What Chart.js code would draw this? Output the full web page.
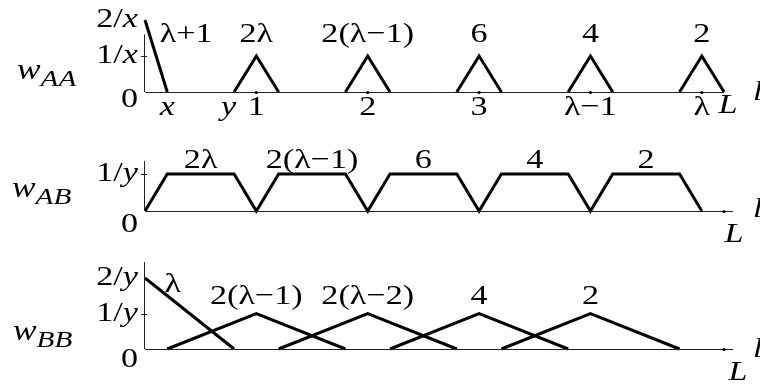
<!DOCTYPE html>
<html>
<head>
<meta charset="utf-8">
<script src="https://cdn.jsdelivr.net/npm/chart.js@4.4.1/dist/chart.umd.min.js"></script>
<style>
  html, body { margin: 0; padding: 0; background: #fff; }
  body { width: 760px; height: 386px; position: relative; overflow: hidden; }
  canvas { position: absolute; left: 0; }
</style>
</head>
<body>
<canvas id="cAA" width="760" height="130" style="top:0"></canvas>
<canvas id="cAB" width="760" height="120" style="top:130px"></canvas>
<canvas id="cBB" width="760" height="136" style="top:250px"></canvas>
<script>
// ---- data -------------------------------------------------------------
// Positions along l are in units where the k-th peak sits at l = k; L = 5.2.
const L_END = 5.2;

// w_AA: a steep decay from 2/x, then narrow triangles of height 1/x
const aaSegX = [[0, 0.2], [0.8, 1, 1.2], [1.8, 2, 2.2], [2.8, 3, 3.2], [3.8, 4, 4.2], [4.8, 5, 5.2]];
const aaSegY = [[2, 0], [0, 1, 0], [0, 1, 0], [0, 1, 0], [0, 1, 0], [0, 1, 0]];
const aaPeakLabels = ['λ+1', '2λ', '2(λ−1)', '6', '4', '2'];
const aaPeakAt = [0.37, 1, 2, 3, 4, 5];
const aaTickAt = [0.2, 0.75, 1, 2, 3, 4, 5];
const aaTickText = ['x', 'y', '1', '2', '3', 'λ−1', 'λ'];
const aaTickItalic = [true, true, false, false, false, false, false];
const aaDots = [1, 2, 3, 4, 5];

// w_AB: trapezoids of height 1/y
const abX = [0, 0.2, 0.8, 1, 1.2, 1.8, 2, 2.2, 2.8, 3, 3.2, 3.8, 4, 4.2, 4.8, 5];
const abY = [0, 1, 1, 0, 1, 1, 0, 1, 1, 0, 1, 1, 0, 1, 1, 0];
const abLabels = ['2λ', '2(λ−1)', '6', '4', '2'];
const abLabelAt = [0.5, 1.5, 2.5, 3.5, 4.5];

// w_BB: a decay from 2/y, then wide overlapping triangles of height 1/y
const bbSegX = [[0, 0.8], [0.2, 1, 1.8], [1.2, 2, 2.8], [2.2, 3, 3.8], [3.2, 4, 4.8]];
const bbSegY = [[2, 0], [0, 1, 0], [0, 1, 0], [0, 1, 0], [0, 1, 0]];
const bbLabels = ['λ', '2(λ−1)', '2(λ−2)', '4', '2'];
const bbLabelAt = [0.25, 1, 2, 3, 4];

// ---- text helpers -----------------------------------------------------
const FONT = '"Liberation Serif", "Times New Roman", serif';
const SX = 1.22;     // glyphs are drawn a little wider than the font's own
const FS = 28;

function fontOf(p) { return (p.i ? 'italic ' : '') + (p.s || FS) + 'px ' + FONT; }

// parts: [{t, i(talic), s(ize), dy}], drawn left-to-right on one baseline
function rich(ctx, parts, x, y, align) {
  const w = parts.map(p => { ctx.font = fontOf(p); return ctx.measureText(p.t).width * SX; });
  const total = w.reduce((a, b) => a + b, 0);
  let cx = align === 'center' ? x - total / 2 : align === 'right' ? x - total : x;
  parts.forEach((p, k) => {
    ctx.save();
    ctx.font = fontOf(p);
    ctx.fillStyle = '#000';
    ctx.textAlign = 'left';
    ctx.textBaseline = 'alphabetic';
    ctx.translate(cx, y + (p.dy || 0));
    ctx.scale(SX, 1);
    ctx.fillText(p.t, 0, 0);
    ctx.restore();
    cx += w[k];
  });
}

// ---- shared plugin: axes, ticks and annotations -------------------------
const framePlugin = {
  id: 'frame',
  afterDatasetsDraw(chart, args, o) {
    const ctx = chart.ctx;
    const xs = chart.scales.x, ys = chart.scales.y;
    const x0 = xs.getPixelForValue(0), y0 = ys.getPixelForValue(0);
    ctx.save();
    // axes
    ctx.strokeStyle = '#222';
    ctx.lineWidth = 1;
    ctx.beginPath();
    ctx.moveTo(x0, y0 + 0.5);
    ctx.lineTo(xs.getPixelForValue(o.xAxisEnd), y0 + 0.5);
    ctx.moveTo(x0 - 0.5, y0);
    ctx.lineTo(x0 - 0.5, ys.getPixelForValue(o.yAxisTop));
    ctx.stroke();
    // y tick marks
    o.yTicks.forEach(v => {
      const py = Math.round(ys.getPixelForValue(v)) + 0.5;
      ctx.beginPath();
      ctx.moveTo(x0 - 4, py);
      ctx.lineTo(x0 + 2, py);
      ctx.stroke();
    });
    // dots on the l axis
    ctx.fillStyle = '#000';
    o.dots.forEach(v => {
      ctx.beginPath();
      ctx.arc(xs.getPixelForValue(v), y0 + 0.5, 1.6, 0, Math.PI * 2);
      ctx.fill();
    });
    // y labels
    o.yLabels.forEach(lb => rich(ctx, lb.parts, x0 - 7, ys.getPixelForValue(lb.v) + lb.dy, 'right'));
    // function name
    rich(ctx, o.name.parts, o.name.x, o.name.y, 'left');
    // l and L
    rich(ctx, [{ t: 'l', i: true }], 753, o.lY, 'left');
    rich(ctx, [{ t: 'L', i: true }], xs.getPixelForValue(L_END) + o.LdX, o.LY, 'center');
    // tick labels under the axis
    (o.xLabels || []).forEach(lb => rich(ctx, [{ t: lb.t, i: lb.i }], xs.getPixelForValue(lb.v), y0 + o.xLabelDy, 'center'));
    // multiplicity labels
    o.tops.forEach(lb => rich(ctx, [{ t: lb.t }], xs.getPixelForValue(lb.v), lb.y, 'center'));
    ctx.restore();
  }
};

function segDatasets(sx, sy) {
  return sx.map((xsArr, k) => ({
    data: xsArr.map((x, j) => ({ x: x, y: sy[k][j] })),
    borderColor: '#000',
    borderWidth: 3,
    pointRadius: 0,
    tension: 0,
    borderJoinStyle: 'miter',
    clip: false
  }));
}

function makeChart(id, datasets, yMax, pad, frame) {
  return new Chart(document.getElementById(id), {
    type: 'line',
    data: { datasets: datasets },
    options: {
      responsive: false,
      animation: false,
      devicePixelRatio: 1,
      layout: { padding: pad },
      events: [],
      plugins: { legend: { display: false }, tooltip: { enabled: false }, frame: frame },
      scales: {
        x: { type: 'linear', min: 0, max: 5.28, display: false },
        y: { type: 'linear', min: 0, max: yMax, display: false }
      }
    },
    plugins: [framePlugin]
  });
}

const frac = (n, v) => [{ t: n + '/' }, { t: v, i: true }];
const wName = sub => [{ t: 'w', i: true, s: 29 }, { t: sub, i: true, s: 24, dy: 7 }];

// w_AA
makeChart('cAA', segDatasets(aaSegX, aaSegY), 2, { left: 145, right: 27, top: 20, bottom: 38 }, {
  xAxisEnd: L_END, yAxisTop: 1.6, yTicks: [1], dots: aaDots,
  yLabels: [{ v: 2, dy: 7, parts: frac('2', 'x') }, { v: 1, dy: 7, parts: frac('1', 'x') }, { v: 0, dy: 15, parts: [{ t: '0' }] }],
  name: { parts: wName('AA'), x: 17, y: 79 },
  lY: 100, LdX: 4, LY: 113,
  xLabels: aaTickAt.map((v, k) => ({ v: v, t: aaTickText[k], i: aaTickItalic[k] })),
  xLabelDy: 23,
  tops: aaPeakLabels.map((t, k) => ({ t: t, v: aaPeakAt[k], y: 42 }))
});

// w_AB
makeChart('cAB', segDatasets([abX], [abY]), 1, { left: 145, right: 27, top: 44, bottom: 39 }, {
  xAxisEnd: 5.28, yAxisTop: 1.35, yTicks: [1], dots: [L_END],
  yLabels: [{ v: 1, dy: 7, parts: frac('1', 'y') }, { v: 0, dy: 21, parts: [{ t: '0' }] }],
  name: { parts: wName('AB'), x: 12, y: 67 },
  lY: 87, LdX: 10, LY: 112,
  tops: abLabels.map((t, k) => ({ t: t, v: abLabelAt[k], y: 38 }))
});

// w_BB
makeChart('cBB', segDatasets(bbSegX, bbSegY), 2, { left: 145, right: 27, top: 28, bottom: 37 }, {
  xAxisEnd: 5.28, yAxisTop: 2.45, yTicks: [1], dots: [L_END],
  yLabels: [{ v: 2, dy: 7, parts: frac('2', 'y') }, { v: 1, dy: 7, parts: frac('1', 'y') }, { v: 0, dy: 18, parts: [{ t: '0' }] }],
  name: { parts: wName('BB'), x: 13, y: 90 },
  lY: 107, LdX: 14, LY: 130,
  tops: bbLabels.map((t, k) => ({ t: t, v: bbLabelAt[k], y: k === 0 ? 42 : 54 }))
});
</script>
</body>
</html>
